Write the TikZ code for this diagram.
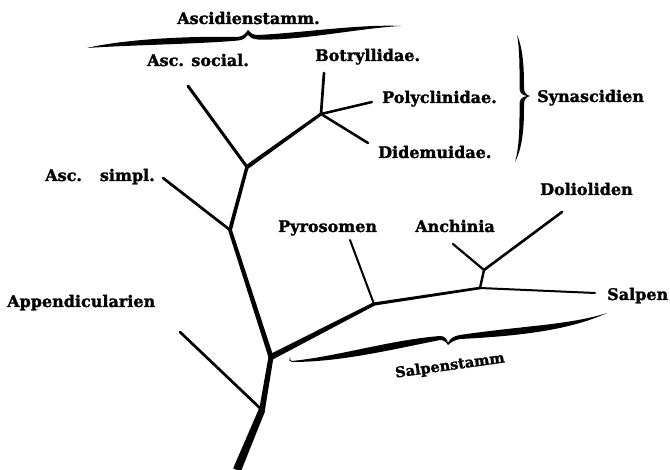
\documentclass[tikz,border=0pt]{standalone}
\usepackage{fontspec}
\setmainfont{DejaVu Serif}[BoldFeatures={FakeBold=1.6}]
\usetikzlibrary{calc}
\newcommand\tlimb[4]{\fill ($(#1)!#3!90:(#2)$) -- ($(#2)!#4!-90:(#1)$) -- ($(#2)!#4!90:(#1)$) -- ($(#1)!#3!-90:(#2)$) -- cycle;}
\tikzset{
  lab/.style={font=\bfseries\fontsize{16}{18}\selectfont, inner sep=0pt, anchor=base west},
  twig/.style={line width=#1, line cap=round},
  twig/.default=2.5pt
}
\begin{document}
\begin{tikzpicture}[x=1pt,y=-1pt]
\useasboundingbox[fill=white] (0,0) rectangle (670,470);
% junctions and ends
\coordinate (root) at (237,470);
\coordinate (jA) at (262,410);
\coordinate (jS) at (271,357);
\coordinate (jAs) at (230,230);
\coordinate (jSoc) at (247,167);
\coordinate (jB) at (321,114);
\coordinate (eSoc) at (188,86);
\coordinate (eBot) at (324,73);
\coordinate (ePoly) at (372,102);
\coordinate (eDid) at (368,143);
\coordinate (eSimpl) at (163,178);
\coordinate (eApp) at (180,332);
\coordinate (jP) at (374,304);
\coordinate (ePyr) at (350,240);
\coordinate (jAn) at (480,288);
\coordinate (jD) at (484,270);
\coordinate (eAnch) at (453,244);
\coordinate (eDol) at (562,212);
\coordinate (eSalp) at (595,293);
% trunk
\tlimb{root}{jA}{4.2pt}{3.3pt}
\tlimb{jA}{jS}{2.9pt}{2.5pt}
\tlimb{jS}{jAs}{2.5pt}{1.9pt}
\tlimb{jAs}{jSoc}{1.9pt}{1.7pt}
\tlimb{jSoc}{jB}{2.1pt}{1.5pt}
\fill (jA) circle (2.9pt) (jS) circle (2.5pt) (jAs) circle (1.9pt) (jSoc) circle (1.9pt) (jB) circle (1.4pt);
% ascidian branches
\draw[twig=3pt] (jSoc) -- (eSoc);
\draw[twig=2.7pt] (jAs) -- (eSimpl);
\draw[twig=2.7pt] (jA) -- (eApp);
\draw[twig=2.7pt] (jB) -- (eBot);
\draw[twig=2.5pt] (jB) -- (ePoly);
\draw[twig=2.5pt] (jB) -- (eDid);
% salp branches
\tlimb{jS}{jP}{3pt}{1.7pt}
\tlimb{jP}{jAn}{1.6pt}{1.3pt}
\fill (jP) circle (1.6pt) (jAn) circle (1.3pt);
\draw[twig=2pt] (jP) -- (ePyr);
\draw[twig=2pt] (jAn) -- (eSalp);
\draw[twig=2.4pt] (jAn) -- (jD);
\draw[twig=2.2pt] (jD) -- (eAnch);
\draw[twig=2.6pt] (jD) -- (eDol);
% Ascidienstamm brace
\fill (87,48) .. controls (130,38) and (200,36) .. (238,37)
  .. controls (244,36) and (246,33) .. (248,30)
  .. controls (250,33) and (253,35) .. (258,35)
  .. controls (300,33) and (360,24) .. (401,26)
  .. controls (360,28) and (300,41) .. (258,39.5)
  .. controls (253,39) and (250,38) .. (248,35)
  .. controls (246,38) and (243,40) .. (238,40.5)
  .. controls (200,44) and (130,45) .. (87,48) -- cycle;
% Synascidien brace
\fill (517,35) .. controls (524,50) and (524,75) .. (524,88)
  .. controls (524,92) and (526,95) .. (530,96)
  .. controls (526,97) and (524,100) .. (524,104)
  .. controls (524,120) and (524,145) .. (515,162)
  .. controls (520,145) and (519.5,120) .. (519.5,104)
  .. controls (519.5,99) and (522,97) .. (527,96)
  .. controls (522,95) and (519.5,93) .. (519.5,88)
  .. controls (519.5,75) and (520,50) .. (517,35) -- cycle;
% Salpenstamm brace
\fill (292,361) .. controls (340,356) and (390,340) .. (440,336)
  .. controls (445,336) and (447,339) .. (448,343)
  .. controls (450,339) and (453,336) .. (460,335)
  .. controls (520,326) and (570,325) .. (607,313)
  .. controls (570,330) and (520,336) .. (460,339)
  .. controls (455,340) and (451,342) .. (448,345)
  .. controls (446,342) and (444,340) .. (440,340)
  .. controls (390,350) and (340,362) .. (292,362) -- cycle;
\draw[line width=0.8pt, line cap=round] (292,361.5) .. controls (290,361) and (289,360) .. (290,358);
% labels
\node[lab] (tAst) at (177,24) {Ascidienstamm.};
\node[lab] (tSoc) at (147,66) {Asc. social.};
\node[lab] (tBot) at (315,61) {Botryllidae.};
\node[lab] (tPoly) at (382,103) {Polyclinidae.};
\node[lab] (tDid) at (378,158) {Didemuidae.};
\node[lab] (tSyn) at (537,102) {Synascidien};
\node[lab] (tSimpl) at (45,181) {Asc.\hspace{18pt}simpl.};
\node[lab] (tApp) at (7,307) {Appendicularien};
\node[lab] (tPyr) at (278,232) {Pyrosomen};
\node[lab] (tAnch) at (415,232) {Anchinia};
\node[lab] (tDol) at (540,195) {Dolioliden};
\node[lab] (tSalp) at (607,300) {Salpen};
\node[lab, anchor=center, rotate=8, font=\bfseries\fontsize{14.5}{16}\selectfont] (tSst) at (450,366) {Salpenstamm};
\end{tikzpicture}
\end{document}
